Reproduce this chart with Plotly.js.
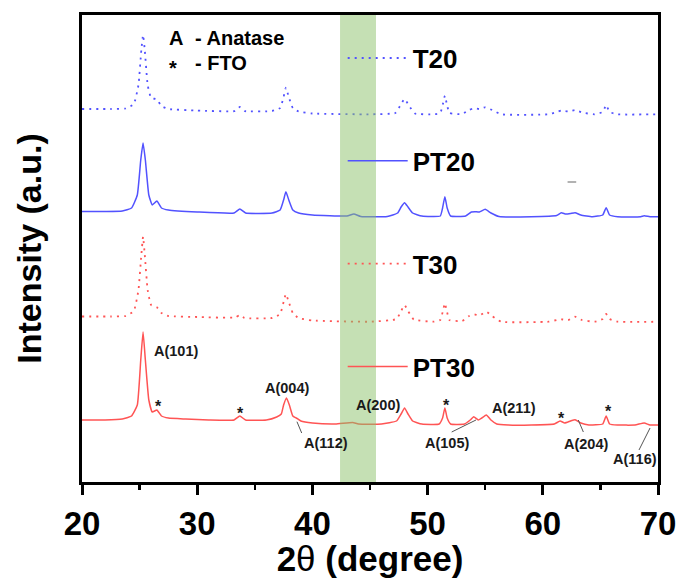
<!DOCTYPE html>
<html>
<head>
<meta charset="utf-8">
<script src="https://cdn.plot.ly/plotly-3.0.1.min.js"></script>
<style>html,body{margin:0;padding:0;background:#fff;}#chart{width:678px;height:578px;}</style>
</head>
<body>
<div id="chart"></div>
<script>
// ---- Data (2θ in degrees, intensity in arbitrary units, offset-stacked) ----
const seriesNames = ["T20", "PT20", "T30", "PT30"];

const t20X = [20,22.5,23.8,24.5,24.9,25.15,25.3,25.45,25.7,26.0,26.5,26.9,27.5,30,33.3,33.7,34.1,36.5,37.2,37.5,37.7,37.95,38.3,38.8,40,45,47.2,47.6,48.0,48.4,48.9,50.5,51.1,51.35,51.5,51.65,51.9,53,53.6,54.0,54.5,55.0,55.6,56.4,60.5,61.2,61.6,62.2,62.8,63.4,64.5,65.2,65.5,65.8,66.5,70];
const t20Y = [373,373,373.5,378,397,432,447,432,397,384,382.7,376,373,371.5,371,375,371,371,374,385,394.3,385,374,370.5,368.5,367.7,369,376,383,376,368.5,367.7,369,379,386.3,379,369,368,372,373.7,373,374.7,372,367.7,367.7,370,371.5,370.5,372,369.5,367.7,370,377,370,367.7,367.7];

const pt20X = [20,22,23.5,24.3,24.8,25.1,25.3,25.5,25.8,26.1,26.5,26.9,27.5,30,33.2,33.7,34.2,36.5,37.2,37.5,37.7,37.95,38.3,38.8,40,43,43.6,44.2,46.5,47.4,47.7,48.0,48.3,48.7,49.5,51.1,51.3,51.5,51.7,52.0,53.3,53.8,54.1,54.5,55.0,55.5,56.2,59,61.2,61.6,62.0,62.4,62.8,63.3,64.3,65.2,65.5,65.8,66.5,68.5,68.8,69.3,70];
const pt20Y = [270.5,270.5,271,274,287,322,339,322,287,277,281,274,272,270,269,273,269,269,272,282,290.3,282,272,269,267,266,268,265.5,265.5,269,275,279.3,275,269,266,266,274,285.3,274,266,266,270,270.3,270,272.7,269,265.5,265.3,266.5,269.3,268,268.5,269.3,267,265.3,267,274.3,267,265.3,265.3,266.3,265.3,265.3];

const t30X = [20,22.5,23.8,24.5,24.9,25.15,25.3,25.45,25.7,26.0,26.5,26.9,27.5,30,33.3,33.7,34.1,36.5,37.2,37.5,37.7,37.95,38.3,38.8,40,45,47.3,47.7,48.0,48.3,48.8,50.5,51.1,51.35,51.5,51.65,51.9,53,53.6,54.0,54.5,55.1,55.6,56.4,60.5,61.2,61.6,62.2,62.8,63.4,64.5,65.2,65.5,65.8,66.5,70];
const t30Y = [165.5,165.5,166,171,192,227,245.3,227,192,177,174.7,169,166,165,164.5,167,164,164,168,180,188,180,169,164,161.5,160.3,163,171,177,171,162.5,160.3,162,172,178.7,172,162,161,166,167.7,166.5,170.3,166,160.3,160.3,162,162.7,162,165.3,162,160.3,163,168,163,160.3,160.3];

const pt30X = [20,22,23.5,24.3,24.8,25.1,25.3,25.5,25.8,26.1,26.5,26.9,27.5,29,31,33.2,33.7,34.2,36,36.9,37.3,37.5,37.75,38.0,38.3,38.6,39.0,40,42,43.5,44,46,47.3,47.7,48.0,48.3,48.7,49.5,51.0,51.3,51.5,51.7,52.0,53.2,53.7,54.0,54.4,54.7,55.1,55.5,56,57,59,61,61.5,61.9,62.4,62.8,63.3,64,65.2,65.5,65.8,66.5,68,68.8,69.3,70];
const pt30Y = [62,62,63,66,77,122,150,122,82,70,72,66,64,63,62,62,66,62,62,65,68,77,84,77,66,64,61,59,58,59.5,58,58,61,68,74,68,61,58,58,64,74,64,58,58,62,65.3,62,64,67,62,58,57,57,58,61,59,61,62.3,59,57,58,66,58,57,57,59,57,57];

// Peak labels
const labelText = ["A(101)","*","*","A(004)","A(112)","A(200)","*","A(105)","A(211)","*","A(204)","*","A(116)"];
const labelX    = [28.16, 26.6, 33.8, 37.8, 41.2, 45.7, 51.66, 51.7, 57.5, 61.58, 63.75, 65.69, 68.0];
const labelY    = [131, 76, 69, 94.3, 39, 77, 77, 39, 74, 64, 38, 71, 23];

// Leader lines for labels [x0,y0,x1,y1]
const leaders = [[38.66,60.3,39.07,49],[52.09,50,54.2,62],[63.08,62,63.52,50],[69.31,54,68.35,32]];

// Highlighted 2θ band
const bandX = [42.4, 45.52];

const blue = "#5252ff", red = "#ff5454";
const FONT = "Liberation Sans, Arial, sans-serif";
const DOTS = "2px,5px";

const traces = [
  {x: t20X, y: t20Y, name: seriesNames[0], mode: "lines", line: {color: blue, width: 1.8, dash: DOTS, shape: "spline", smoothing: 0.4}, legendgroup: "a"},
  {x: pt20X, y: pt20Y, name: seriesNames[1], mode: "lines", line: {color: blue, width: 1.5, shape: "spline", smoothing: 0.4}, legendgroup: "b"},
  {x: t30X, y: t30Y, name: seriesNames[2], mode: "lines", line: {color: red, width: 1.8, dash: DOTS, shape: "spline", smoothing: 0.4}, legendgroup: "c"},
  {x: pt30X, y: pt30Y, name: seriesNames[3], mode: "lines", line: {color: red, width: 1.5, shape: "spline", smoothing: 0.4}, legendgroup: "d"}
];

const annotations = labelText.map((t, i) => ({
  x: labelX[i], y: labelY[i], xref: "x", yref: "y", text: t, showarrow: false,
  xanchor: "center", yanchor: "middle",
  font: {family: FONT, size: t === "*" ? 16 : 14.5, weight: "bold", color: "#1a1a1a"}
}));
annotations.push(
  {x: 27.35, y: 443.7, xref: "x", yref: "y", text: "A", showarrow: false, xanchor: "left", yanchor: "middle", font: {family: FONT, size: 20, weight: "bold", color: "#000"}},
  {x: 29.6, y: 443.7, xref: "x", yref: "y", text: "- Anatase", showarrow: false, xanchor: "left", yanchor: "middle", font: {family: FONT, size: 20, weight: "bold", color: "#000"}},
  {x: 27.35, y: 414, xref: "x", yref: "y", text: "*", showarrow: false, xanchor: "left", yanchor: "middle", font: {family: FONT, size: 20, weight: "bold", color: "#000"}},
  {x: 29.6, y: 419, xref: "x", yref: "y", text: "- FTO", showarrow: false, xanchor: "left", yanchor: "middle", font: {family: FONT, size: 20, weight: "bold", color: "#000"}}
);

const shapes = [
  {type: "rect", xref: "x", yref: "paper", x0: bandX[0], x1: bandX[1], y0: 0, y1: 1,
   fillcolor: "rgb(139,193,105)", opacity: 0.5, line: {width: 0}, layer: "above"}
];
leaders.forEach(l => shapes.push({type: "line", xref: "x", yref: "y", x0: l[0], y0: l[1], x1: l[2], y1: l[3], line: {color: "#555", width: 1}}));
shapes.push({type: "line", xref: "x", yref: "y", x0: 62.15, y0: 300, x1: 62.9, y1: 300, line: {color: "#999", width: 1.5}});

const layout = {
  width: 678, height: 578,
  margin: {l: 82, r: 20, t: 15, b: 96},
  paper_bgcolor: "#fff", plot_bgcolor: "#fff",
  showlegend: true,
  legend: {
    x: 0.4526, xanchor: "left", y: 0.958, yanchor: "top",
    traceorder: "grouped", tracegroupgap: 66, itemwidth: 60,
    bgcolor: "rgba(0,0,0,0)", borderwidth: 0,
    font: {family: FONT, size: 26, weight: "bold", color: "#000"}
  },
  xaxis: {
    range: [20, 70], dtick: 10, tick0: 20,
    showline: true, linecolor: "#000", linewidth: 3, mirror: true,
    ticks: "outside", ticklen: 10, tickwidth: 3, tickcolor: "#000",
    minor: {dtick: 5, ticks: "outside", ticklen: 5, tickwidth: 2.5, tickcolor: "#000"},
    showgrid: false, zeroline: false,
    tickfont: {family: FONT, size: 33, weight: "bold", color: "#000"},
    title: {text: "2<span style=\"font-weight:normal\">θ</span> (degree)", standoff: 14, font: {family: FONT, size: 35, weight: "bold", color: "#000"}}
  },
  yaxis: {
    range: [0, 467],
    showline: true, linecolor: "#000", linewidth: 3, mirror: true,
    ticks: "", showticklabels: false, showgrid: false, zeroline: false,
    title: {text: "Intensity (a.u.)", standoff: 28, font: {family: FONT, size: 34, weight: "bold", color: "#000"}}
  },
  annotations: annotations,
  shapes: shapes
};

Plotly.newPlot("chart", traces, layout, {displayModeBar: false, staticPlot: true});
</script>
</body>
</html>
